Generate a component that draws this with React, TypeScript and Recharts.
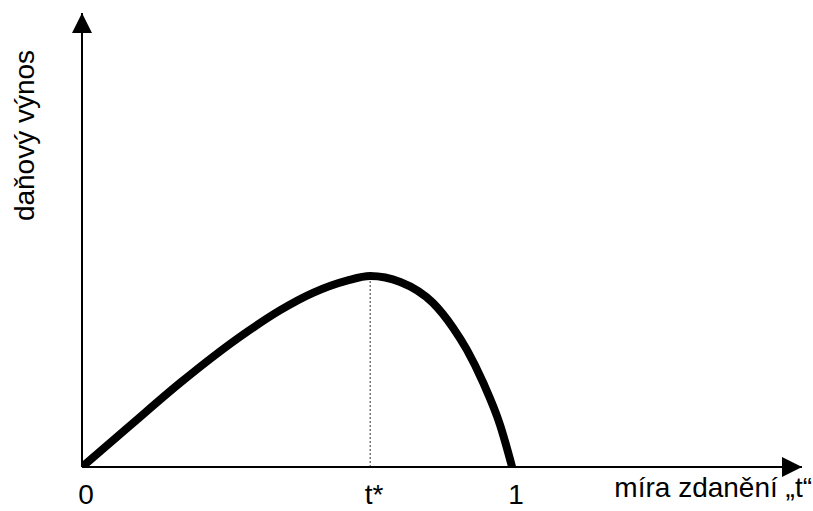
import { LineChart, Line, XAxis, YAxis, ReferenceLine, Label } from 'recharts';

// tax rate t (0..1) and tax revenue, peak normalised to 1
const rates = [0, 0.112, 0.228, 0.305, 0.384, 0.46, 0.537, 0.616, 0.67, 0.74, 0.816, 0.863, 0.895, 0.933, 0.972, 1];
const revenue = [0, 0.217, 0.44, 0.578, 0.708, 0.82, 0.912, 0.976, 1, 0.969, 0.859, 0.728, 0.613, 0.44, 0.22, 0];

const tStar = 0.67;
const peak = 1;
const xAxisEnd = 1.674;
const yAxisEnd = 2.377;

const tickValues = [0, tStar, 1];
const tickLabels = ['0', 't*', '1'];

const xTitle = 'míra zdanění „t“';
const yTitle = 'daňový výnos';

const data = rates.map((t, i) => ({ t, v: revenue[i] }));

const FONT = '"Liberation Sans", Arial, sans-serif';

function XTitle({ viewBox }: any) {
  const { x, y, width } = viewBox;
  return (
    <text x={x + width + 10} y={y + 30} textAnchor="end" fontSize={28} fontFamily={FONT} fill="#000">
      {xTitle}
    </text>
  );
}

function YTitleLabel({ viewBox }: any) {
  const { x, y } = viewBox;
  const cx = x + 34;
  const cy = y + 122.5;
  return (
    <text x={cx} y={cy} transform={`rotate(-90, ${cx}, ${cy})`} textAnchor="middle" fontSize={28} fontFamily={FONT} fill="#000">
      {yTitle}
    </text>
  );
}

export default function App() {
  return (
    <div style={{ position: 'absolute', left: 0, top: 0, width: 813, height: 511, background: '#fff' }}>
      <LineChart width={813} height={511} data={data} margin={{ top: 13, right: 11, left: 0, bottom: 0 }}>
        <defs>
          <marker
            id="arrow"
            viewBox="0 0 20 20"
            refX={20}
            refY={10}
            markerWidth={20}
            markerHeight={20}
            markerUnits="userSpaceOnUse"
            orient="auto-start-reverse"
          >
            <path d="M0,0 L20,10 L0,20 z" fill="#000" />
          </marker>
        </defs>
        <XAxis
          dataKey="t"
          type="number"
          domain={[0, xAxisEnd]}
          allowDataOverflow
          ticks={tickValues}
          interval={0}
          tickFormatter={(v: number) => tickLabels[tickValues.indexOf(v)] ?? ''}
          tickLine={false}
          tickSize={0}
          tickMargin={17}
          height={44}
          axisLine={{ stroke: '#000', strokeWidth: 2, markerEnd: 'url(#arrow)' }}
          tick={{ fill: '#000', fontSize: 28, fontFamily: FONT, dx: 4 }}
        >
          <Label content={<XTitle />} />
        </XAxis>
        <YAxis
          type="number"
          domain={[0, yAxisEnd]}
          allowDataOverflow
          width={82}
          tick={false}
          tickLine={false}
          axisLine={{ stroke: '#000', strokeWidth: 2, markerStart: 'url(#arrow)' }}
        >
          <Label content={<YTitleLabel />} />
        </YAxis>
        <ReferenceLine
          segment={[{ x: tStar, y: 0 }, { x: tStar, y: peak }]}
          stroke="#333"
          strokeWidth={1}
          strokeDasharray="2 2"
        />
        <Line
          type="monotone"
          dataKey="v"
          stroke="#000"
          strokeWidth={8}
          dot={false}
          activeDot={false}
          isAnimationActive={false}
        />
      </LineChart>
    </div>
  );
}
